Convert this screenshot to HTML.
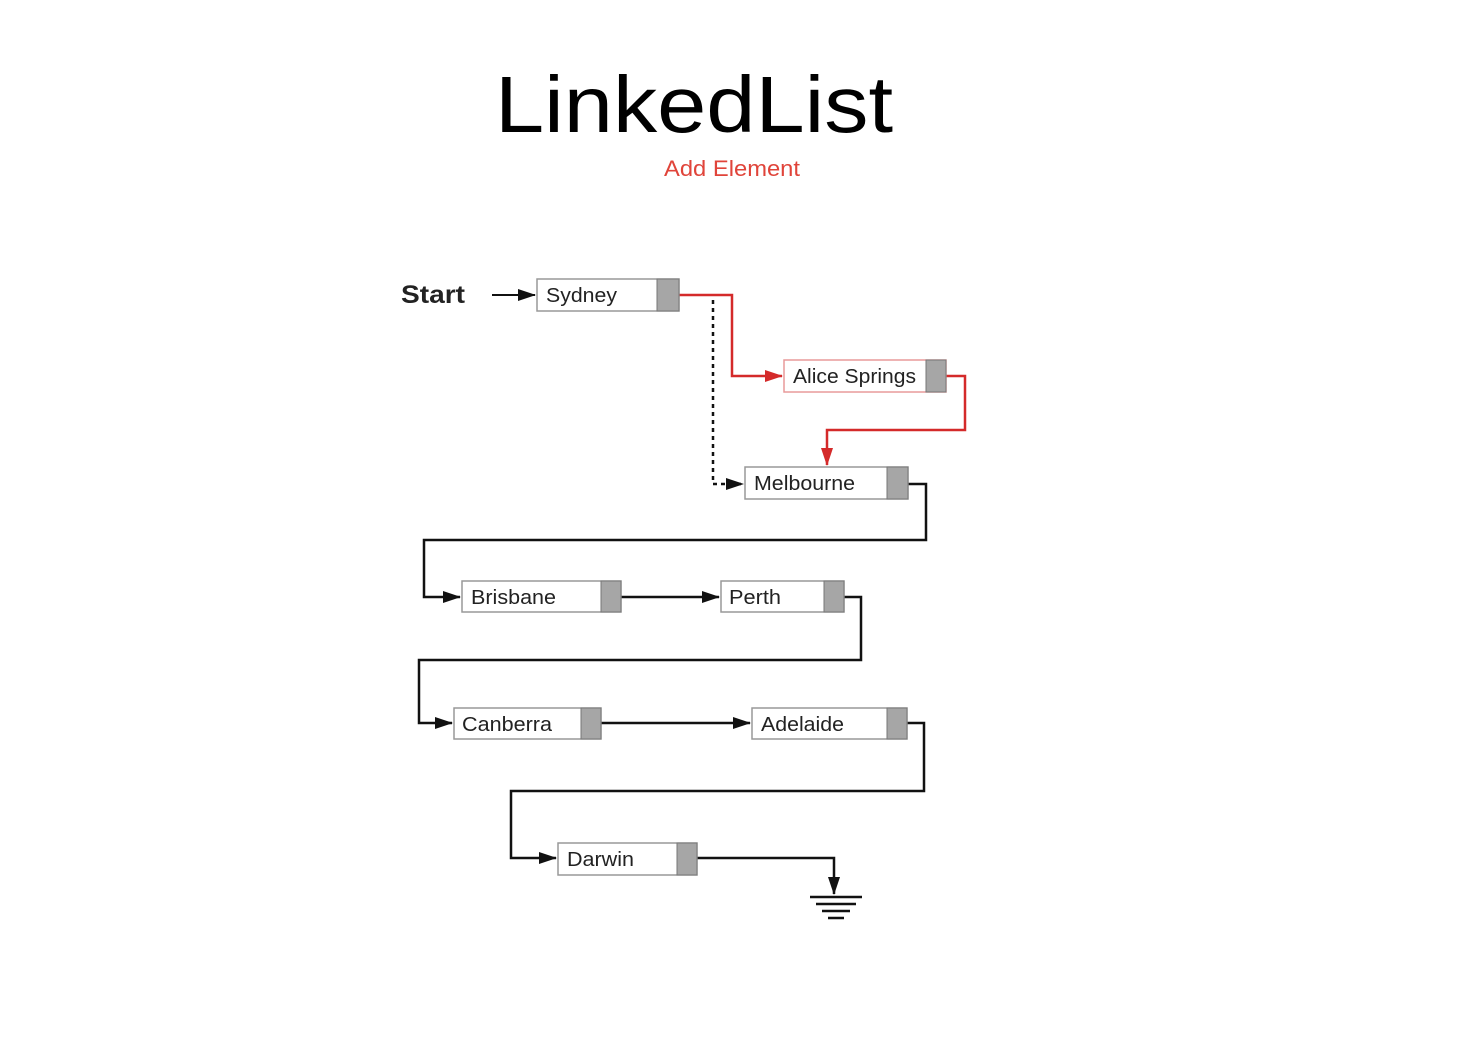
<!DOCTYPE html>
<html><head><meta charset="utf-8"><style>
html,body{margin:0;padding:0;background:#fff;width:1480px;height:1044px;overflow:hidden}
svg{display:block}
</style></head><body>
<svg width="1480" height="1044" viewBox="0 0 1480 1044" xmlns="http://www.w3.org/2000/svg" font-family="Liberation Sans, Arial, sans-serif">
<defs>
<marker id="ab" markerWidth="18" markerHeight="12" refX="17" refY="6" orient="auto" markerUnits="userSpaceOnUse"><path d="M0,0 L18,6 L0,12 z" fill="#111"/></marker>
<marker id="ar" markerWidth="18" markerHeight="12" refX="17" refY="6" orient="auto" markerUnits="userSpaceOnUse"><path d="M0,0 L18,6 L0,12 z" fill="#d42a2a"/></marker>
</defs>
<text x="694" y="132" font-size="80" text-anchor="middle" textLength="398" lengthAdjust="spacingAndGlyphs" fill="#000">LinkedList</text>
<text x="732" y="176" font-size="22" text-anchor="middle" textLength="136" lengthAdjust="spacingAndGlyphs" fill="#e0443a">Add Element</text>
<text x="401" y="303" font-size="25" font-weight="bold" fill="#222" textLength="64" lengthAdjust="spacingAndGlyphs">Start</text>

<g fill="none" stroke="#111" stroke-width="2.5">
<path d="M492,295 H535" marker-end="url(#ab)" stroke-width="2"/>
<path d="M713,300 V484 H743" stroke-dasharray="4,4" marker-end="url(#ab)"/>
<path d="M908,484 H926 V540 H424 V597 H460" marker-end="url(#ab)"/>
<path d="M621,597 H719" marker-end="url(#ab)"/>
<path d="M844,597 H861 V660 H419 V723 H452" marker-end="url(#ab)"/>
<path d="M601,723 H750" marker-end="url(#ab)"/>
<path d="M907,723 H924 V791 H511 V858 H556" marker-end="url(#ab)"/>
<path d="M697,858 H834 V894" marker-end="url(#ab)"/>
<path d="M810,897 H862 M816,904 H856 M822,911 H850 M828,918 H844"/>
</g>
<g fill="none" stroke="#d42a2a" stroke-width="2.5">
<path d="M679,295 H732 V376 H782" marker-end="url(#ar)"/>
<path d="M946,376 H965 V430 H827 V465" marker-end="url(#ar)"/>
</g>

<g font-size="20" fill="#222">
<rect x="537" y="279" width="142" height="32" fill="#fff" stroke="#999" stroke-width="1.5"/><rect x="657" y="279" width="22" height="32" fill="#a6a6a6" stroke="#777"/><text x="546" y="302" textLength="71" lengthAdjust="spacingAndGlyphs">Sydney</text>
<rect x="784" y="360" width="162" height="32" fill="#fff" stroke="#e89a9a" stroke-width="1.5"/><rect x="926" y="360" width="20" height="32" fill="#a6a6a6" stroke="#777"/><text x="793" y="383" textLength="123" lengthAdjust="spacingAndGlyphs">Alice Springs</text>
<rect x="745" y="467" width="163" height="32" fill="#fff" stroke="#999" stroke-width="1.5"/><rect x="887" y="467" width="21" height="32" fill="#a6a6a6" stroke="#777"/><text x="754" y="490" textLength="101" lengthAdjust="spacingAndGlyphs">Melbourne</text>
<rect x="462" y="581" width="159" height="31" fill="#fff" stroke="#999" stroke-width="1.5"/><rect x="601" y="581" width="20" height="31" fill="#a6a6a6" stroke="#777"/><text x="471" y="604" textLength="85" lengthAdjust="spacingAndGlyphs">Brisbane</text>
<rect x="721" y="581" width="123" height="31" fill="#fff" stroke="#999" stroke-width="1.5"/><rect x="824" y="581" width="20" height="31" fill="#a6a6a6" stroke="#777"/><text x="729" y="604" textLength="52" lengthAdjust="spacingAndGlyphs">Perth</text>
<rect x="454" y="708" width="147" height="31" fill="#fff" stroke="#999" stroke-width="1.5"/><rect x="581" y="708" width="20" height="31" fill="#a6a6a6" stroke="#777"/><text x="462" y="731" textLength="90" lengthAdjust="spacingAndGlyphs">Canberra</text>
<rect x="752" y="708" width="155" height="31" fill="#fff" stroke="#999" stroke-width="1.5"/><rect x="887" y="708" width="20" height="31" fill="#a6a6a6" stroke="#777"/><text x="761" y="731" textLength="83" lengthAdjust="spacingAndGlyphs">Adelaide</text>
<rect x="558" y="843" width="139" height="32" fill="#fff" stroke="#999" stroke-width="1.5"/><rect x="677" y="843" width="20" height="32" fill="#a6a6a6" stroke="#777"/><text x="567" y="866" textLength="67" lengthAdjust="spacingAndGlyphs">Darwin</text>
</g>
</svg>
</body></html>
